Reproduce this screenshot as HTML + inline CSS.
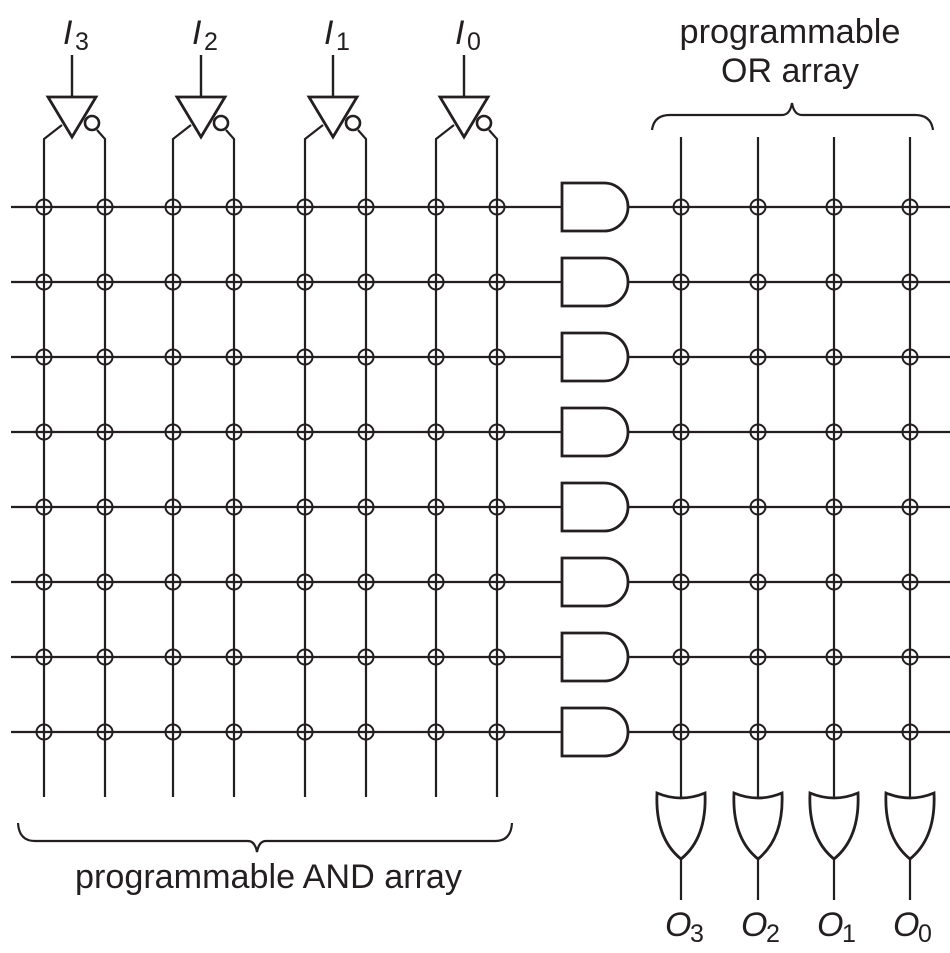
<!DOCTYPE html>
<html><head><meta charset="utf-8"><style>
html,body{margin:0;padding:0;background:#fff;}
svg{display:block;}
text{font-family:"Liberation Sans",sans-serif;fill:#231f20;}
</style></head><body>
<svg width="950" height="953" viewBox="0 0 950 953" xmlns="http://www.w3.org/2000/svg">
<defs>
<g id="c"><circle r="7.5" fill="none" stroke="#231f20" stroke-width="2"/></g>
<g id="and"><path d="M562,-24 H604 A24,24 0 0 1 604,24 H562 Z" fill="#fff" stroke="#231f20" stroke-width="2.8"/></g>
<g id="or"><path d="M-24,-5 Q0,5 24,-5 Q26,40 0,61 Q-26,40 -24,-5 Z" fill="#fff" stroke="#231f20" stroke-width="2.8"/></g>
<g id="inv">
<line x1="0" y1="55" x2="0" y2="97" stroke="#231f20" stroke-width="2.4"/>
<path d="M-24,97 H24 L0,137 Z" fill="#fff" stroke="#231f20" stroke-width="2.8"/>
<circle cx="20" cy="123" r="7" fill="#fff" stroke="#231f20" stroke-width="2.6"/>
<path d="M-10,125 L-28,139 V797" fill="none" stroke="#231f20" stroke-width="2.2"/>
<path d="M25,130 L33,139 V797" fill="none" stroke="#231f20" stroke-width="2.2"/>
</g>
</defs>
<g stroke="#231f20" stroke-width="2.2" fill="none">
<path d="M11,207H562 M11,282H562 M11,357H562 M11,432H562 M11,507H562 M11,582H562 M11,657H562 M11,732H562"/>
<path d="M623,207H950 M623,282H950 M623,357H950 M623,432H950 M623,507H950 M623,582H950 M623,657H950 M623,732H950"/>
<path d="M681,137V900 M758,137V900 M834,137V900 M910,137V900"/>
<path d="M652,130 Q654,115 670,115 H782 Q790,115 792,103 Q794,115 802,115 H915 Q931,115 933,130"/>
<path d="M18,823 Q19,841 35,841 H248 Q255,841 257,852 Q259,841 266,841 H495 Q511,841 512,823"/>
</g>
<use href="#inv" x="72" y="0"/>
<use href="#inv" x="201" y="0"/>
<use href="#inv" x="333" y="0"/>
<use href="#inv" x="464" y="0"/>
<g id="row">
<use href="#c" x="44" y="207"/><use href="#c" x="105" y="207"/><use href="#c" x="173" y="207"/><use href="#c" x="234" y="207"/>
<use href="#c" x="305" y="207"/><use href="#c" x="366" y="207"/><use href="#c" x="436" y="207"/><use href="#c" x="497" y="207"/>
<use href="#c" x="681" y="207"/><use href="#c" x="758" y="207"/><use href="#c" x="834" y="207"/><use href="#c" x="910" y="207"/>
<use href="#and" x="0" y="207"/>
</g>
<use href="#row" y="75"/><use href="#row" y="150"/><use href="#row" y="225"/><use href="#row" y="300"/>
<use href="#row" y="375"/><use href="#row" y="450"/><use href="#row" y="525"/>
<use href="#or" x="681" y="798"/><use href="#or" x="758" y="798"/><use href="#or" x="834" y="798"/><use href="#or" x="910" y="798"/>
<g font-size="34">
<text x="63" y="44" font-style="italic">I</text><text x="75" y="50" font-size="25">3</text>
<text x="192" y="44" font-style="italic">I</text><text x="204" y="50" font-size="25">2</text>
<text x="324" y="44" font-style="italic">I</text><text x="336" y="50" font-size="25">1</text>
<text x="455" y="44" font-style="italic">I</text><text x="467" y="50" font-size="25">0</text>
<text x="665" y="936" font-style="italic">O</text><text x="690" y="942" font-size="25">3</text>
<text x="741" y="936" font-style="italic">O</text><text x="766" y="942" font-size="25">2</text>
<text x="817" y="936" font-style="italic">O</text><text x="842" y="942" font-size="25">1</text>
<text x="893" y="936" font-style="italic">O</text><text x="918" y="942" font-size="25">0</text>
<text x="790" y="43" text-anchor="middle" textLength="221" lengthAdjust="spacingAndGlyphs">programmable</text>
<text x="790" y="82" text-anchor="middle">OR array</text>
<text x="75" y="888" textLength="387" lengthAdjust="spacingAndGlyphs">programmable AND array</text>
</g>
</svg>
</body></html>
